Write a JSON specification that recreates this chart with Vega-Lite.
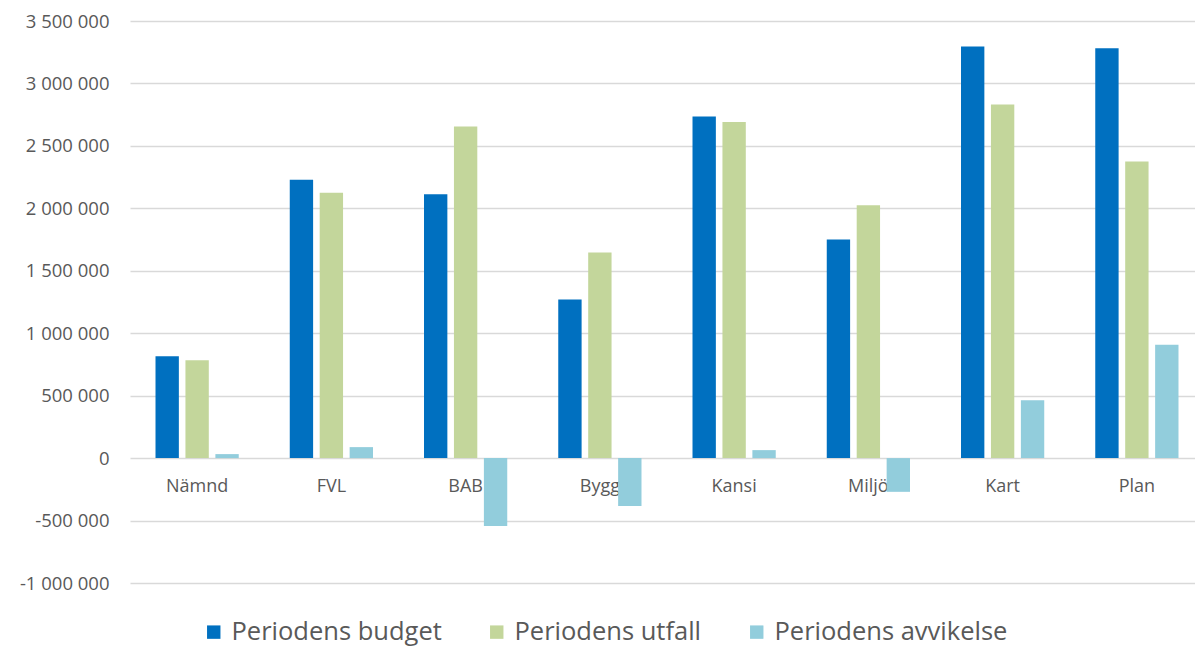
{
  "$schema": "https://vega.github.io/schema/vega-lite/v6.json",
  "width": 1074,
  "height": 562,
  "autosize": {"type": "none"},
  "padding": {"left": 130, "top": 21, "right": 0, "bottom": 67},
  "background": "white",
  "config": {
    "view": {"stroke": null},
    "font": "Open Sans",
    "locale": {"number": {"decimal": ",", "thousands": " ", "grouping": [3], "currency": ["", " kr"], "minus": "-"}}
  },
  "data": {
    "values": [
      {"enhet": "Nämnd", "serie": "Periodens budget", "belopp": 816000},
      {"enhet": "Nämnd", "serie": "Periodens utfall", "belopp": 784000},
      {"enhet": "Nämnd", "serie": "Periodens avvikelse", "belopp": 32000},
      {"enhet": "FVL", "serie": "Periodens budget", "belopp": 2228000},
      {"enhet": "FVL", "serie": "Periodens utfall", "belopp": 2124000},
      {"enhet": "FVL", "serie": "Periodens avvikelse", "belopp": 88000},
      {"enhet": "BAB", "serie": "Periodens budget", "belopp": 2112000},
      {"enhet": "BAB", "serie": "Periodens utfall", "belopp": 2656000},
      {"enhet": "BAB", "serie": "Periodens avvikelse", "belopp": -544000},
      {"enhet": "Bygg", "serie": "Periodens budget", "belopp": 1270000},
      {"enhet": "Bygg", "serie": "Periodens utfall", "belopp": 1646000},
      {"enhet": "Bygg", "serie": "Periodens avvikelse", "belopp": -384000},
      {"enhet": "Kansi", "serie": "Periodens budget", "belopp": 2736000},
      {"enhet": "Kansi", "serie": "Periodens utfall", "belopp": 2692000},
      {"enhet": "Kansi", "serie": "Periodens avvikelse", "belopp": 64000},
      {"enhet": "Miljö", "serie": "Periodens budget", "belopp": 1750000},
      {"enhet": "Miljö", "serie": "Periodens utfall", "belopp": 2024000},
      {"enhet": "Miljö", "serie": "Periodens avvikelse", "belopp": -270000},
      {"enhet": "Kart", "serie": "Periodens budget", "belopp": 3296000},
      {"enhet": "Kart", "serie": "Periodens utfall", "belopp": 2832000},
      {"enhet": "Kart", "serie": "Periodens avvikelse", "belopp": 464000},
      {"enhet": "Plan", "serie": "Periodens budget", "belopp": 3282000},
      {"enhet": "Plan", "serie": "Periodens utfall", "belopp": 2376000},
      {"enhet": "Plan", "serie": "Periodens avvikelse", "belopp": 908000}
    ]
  },
  "mark": {"type": "bar"},
  "encoding": {
    "x": {
      "field": "enhet",
      "type": "nominal",
      "sort": ["Nämnd", "FVL", "BAB", "Bygg", "Kansi", "Miljö", "Kart", "Plan"],
      "scale": {"paddingInner": 0.38, "paddingOuter": 0.19},
      "axis": {
        "title": null,
        "labelAngle": 0,
        "offset": -125,
        "domain": false,
        "ticks": false,
        "labelPadding": 19,
        "labelFontSize": 18,
        "labelColor": "#595959",
        "labelFont": "Open Sans"
      }
    },
    "xOffset": {
      "field": "serie",
      "type": "nominal",
      "sort": ["Periodens budget", "Periodens utfall", "Periodens avvikelse"],
      "scale": {"paddingInner": 0.22, "paddingOuter": 0}
    },
    "y": {
      "field": "belopp",
      "type": "quantitative",
      "scale": {"domain": [-1000000, 3500000], "nice": false},
      "axis": {
        "title": null,
        "values": [-1000000, -500000, 0, 500000, 1000000, 1500000, 2000000, 2500000, 3000000, 3500000],
        "format": ",.0f",
        "domain": false,
        "ticks": false,
        "labelPadding": 21,
        "labelFontSize": 18.5,
        "labelColor": "#595959",
        "labelFont": "Open Sans",
        "gridColor": "#D9D9D9",
        "gridWidth": 1.3
      }
    },
    "color": {
      "field": "serie",
      "type": "nominal",
      "sort": ["Periodens budget", "Periodens utfall", "Periodens avvikelse"],
      "scale": {
        "domain": ["Periodens budget", "Periodens utfall", "Periodens avvikelse"],
        "range": ["#0070C0", "#C3D69B", "#92CDDC"]
      },
      "legend": {
        "title": null,
        "orient": "none",
        "direction": "horizontal",
        "legendX": 71,
        "legendY": 598,
        "symbolType": "square",
        "symbolSize": 180,
        "symbolStrokeWidth": 0,
        "labelFontSize": 25.5,
        "labelLimit": 500,
        "labelColor": "#595959",
        "labelFont": "Open Sans",
        "labelOffset": 5,
        "columnPadding": 42
      }
    }
  }
}
